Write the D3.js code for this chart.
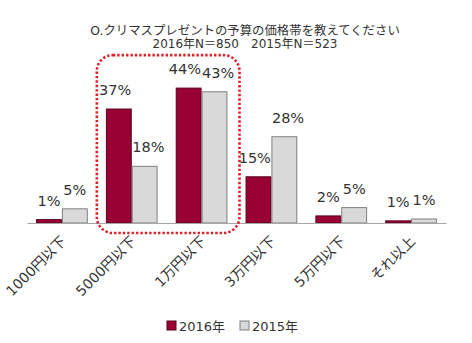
<!DOCTYPE html>
<html><head><meta charset="utf-8">
<script src="https://cdn.jsdelivr.net/npm/d3@7"></script>
<style>
html,body{margin:0;padding:0;background:#fff;}
text{font-family:"DejaVu Sans","Noto Sans CJK JP",sans-serif;}
</style></head>
<body><svg id="c" width="472" height="343"></svg>
<script>
const titleLines = ["O.クリマスプレゼントの予算の価格帯を教えてください", "2016年N＝850　2015年N＝523"];
const categories = ["1000円以下", "5000円以下", "1万円以下", "3万円以下", "5万円以下", "それ以上"];
const seriesNames = ["2016年", "2015年"];
const values2016 = [1.1, 37, 43.8, 15, 2.3, 0.7];
const values2015 = [4.6, 18.4, 42.6, 28, 5.0, 1.3];
const highlighted = ["5000円以下", "1万円以下"];

const colors = ["#990033", "#d9d9d9"];
const strokes = ["#5a0020", "#7f7f7f"];

const svg = d3.select("#c");
const baseY = 223;
const x = d3.scaleBand().domain(categories).range([27, 446]).paddingInner(0).paddingOuter(0);
const inner = d3.scaleBand().domain(seriesNames).range([0, x.bandwidth()]).paddingInner(0).paddingOuter(0.35);
const y = d3.scaleLinear().domain([0, 50]).range([baseY, baseY - 154]);

// title
svg.append("g").selectAll("text").data(titleLines).enter().append("text")
  .attr("x", 245).attr("y", (d, i) => 35 + i * 13)
  .attr("text-anchor", "middle").attr("font-size", (d, i) => i === 0 ? 12.4 : 12).attr("fill", "#333")
  .text(d => d);

const series = seriesNames.map((s, i) => ({name: s, idx: i, values: i === 0 ? values2016 : values2015}));
const data = [];
series.forEach(s => s.values.forEach((v, j) => data.push({series: s.name, idx: s.idx, cat: categories[j], v})));

// bars
svg.append("g").selectAll("rect").data(data).enter().append("rect")
  .attr("x", d => x(d.cat) + inner(d.series) + 0.5)
  .attr("y", d => y(d.v))
  .attr("width", inner.bandwidth() - 1)
  .attr("height", d => baseY - y(d.v))
  .attr("fill", d => colors[d.idx])
  .attr("stroke", d => strokes[d.idx]).attr("stroke-width", 1);

// axis
const axis = svg.append("g").attr("transform", `translate(0,${baseY})`)
  .call(d3.axisBottom(x).tickSize(0).tickFormat(""));
axis.select(".domain").attr("stroke", "#a6a6a6");
svg.append("g").selectAll("text").data(categories).enter().append("text")
  .attr("transform", d => `translate(${x(d) + x.bandwidth() / 2 + 5},${baseY + 19}) rotate(-45)`)
  .attr("text-anchor", "end").attr("font-size", 14).attr("fill", "#333")
  .text(d => d);

// value labels
const labels = svg.append("g").selectAll("text").data(data).enter().append("text")
  .attr("x", d => x(d.cat) + inner(d.series) + inner.bandwidth() / 2)
  .attr("y", d => y(d.v) - 14)
  .attr("text-anchor", "middle").attr("font-size", 14.5).attr("fill", "#333")
  .text(d => Math.round(d.v) + "%");
// resolve overlaps between paired labels
categories.forEach(c => {
  const pair = labels.filter(d => d.cat === c).nodes();
  if (pair.length === 2) {
    const a = pair[0].getBBox(), b = pair[1].getBBox();
    const ov = a.x + a.width - b.x;
    if (ov > 0) {
      d3.select(pair[0]).attr("x", +pair[0].getAttribute("x") - ov / 2 - 0.5);
      d3.select(pair[1]).attr("x", +pair[1].getAttribute("x") + ov / 2 + 0.5);
    }
  }
});

// highlight rounded dotted box
const hx0 = x(highlighted[0]);
const hx1 = x(highlighted[highlighted.length - 1]) + x.bandwidth() + 3;
const hy0 = y(d3.max(data.filter(d => highlighted.includes(d.cat)), d => d.v)) - 33;
const hy1 = baseY + 10;
svg.append("rect").attr("x", hx0).attr("y", hy0).attr("width", hx1 - hx0).attr("height", hy1 - hy0)
  .attr("rx", 16).attr("ry", 16).attr("fill", "none")
  .attr("stroke", "#e0202a").attr("stroke-width", 2.6).attr("stroke-dasharray", "2.4 2");

// legend
const lg = svg.append("g").selectAll("g").data(series).enter().append("g")
  .attr("transform", (d, i) => `translate(${167 + i * 73},321)`);
lg.append("rect").attr("width", 9).attr("height", 9)
  .attr("fill", d => colors[d.idx]).attr("stroke", d => strokes[d.idx]);
lg.append("text").attr("x", 12).attr("y", 9.5).attr("font-size", 13).attr("fill", "#333")
  .text(d => d.name);
</script></body></html>
